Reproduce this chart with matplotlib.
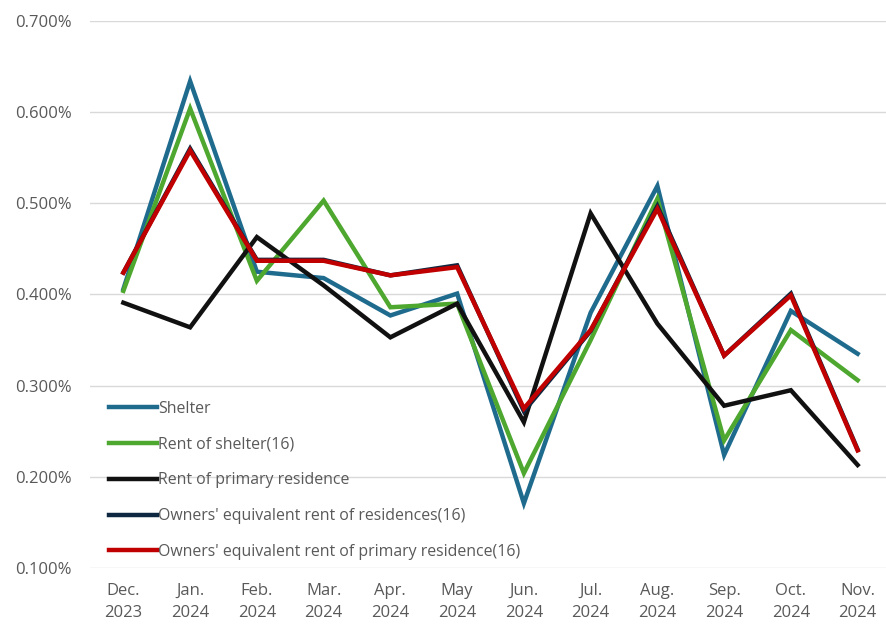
import matplotlib.pyplot as plt
from matplotlib.ticker import FuncFormatter

months = ["Dec.\n2023", "Jan.\n2024", "Feb.\n2024", "Mar.\n2024", "Apr.\n2024", "May\n2024",
          "Jun.\n2024", "Jul.\n2024", "Aug.\n2024", "Sep.\n2024", "Oct.\n2024", "Nov.\n2024"]

shelter = [0.406, 0.634, 0.425, 0.418, 0.377, 0.401, 0.171, 0.380, 0.519, 0.224, 0.382, 0.335]
rent_of_shelter = [0.404, 0.604, 0.415, 0.503, 0.386, 0.390, 0.204, 0.350, 0.505, 0.240, 0.361, 0.306]
rent_primary = [0.391, 0.364, 0.463, 0.410, 0.353, 0.390, 0.260, 0.489, 0.368, 0.278, 0.295, 0.213]
oer_residences = [0.424, 0.560, 0.438, 0.438, 0.421, 0.432, 0.272, 0.360, 0.497, 0.333, 0.401, 0.230]
oer_primary = [0.424, 0.558, 0.437, 0.437, 0.421, 0.430, 0.275, 0.361, 0.494, 0.333, 0.399, 0.229]

series = [
    ("Shelter", shelter, "#1F6B8E"),
    ("Rent of shelter(16)", rent_of_shelter, "#4EA72E"),
    ("Rent of primary residence", rent_primary, "#111111"),
    ("Owners' equivalent rent of residences(16)", oer_residences, "#0E2841"),
    ("Owners' equivalent rent of primary residence(16)", oer_primary, "#C00000"),
]

plt.rcParams['font.family'] = ['Open Sans', 'DejaVu Sans']
grey = "#595959"

fig = plt.figure(figsize=(8.87, 6.24), dpi=100)
ax = fig.add_axes([90 / 887, 1 - 568 / 624, 801 / 887, (568 - 21) / 624])

x = list(range(len(months)))
for name, vals, col in series:
    ax.plot(x, vals, color=col, lw=3.2, label=name, solid_joinstyle="miter")

ax.set_ylim(0.1, 0.7)
ax.set_xlim(-0.5, 11.5)
ax.set_yticks([0.1, 0.2, 0.3, 0.4, 0.5, 0.6, 0.7])
ax.yaxis.set_major_formatter(FuncFormatter(lambda v, p: f"{v:.3f}%"))
ax.set_xticks(x)
ax.set_xticklabels(months, linespacing=1.45)
ax.grid(axis="y", color="#d9d9d9", lw=1)
ax.set_axisbelow(True)
for s in ax.spines.values():
    s.set_visible(False)
ax.tick_params(length=0, labelsize=12, colors=grey)
ax.tick_params(axis="y", pad=13)
ax.tick_params(axis="x", pad=11)

leg = ax.legend(loc="lower left", bbox_to_anchor=(8 / 801, -3 / 547), frameon=False,
                fontsize=11.4, handlelength=3.0, handletextpad=0.1, labelspacing=1.25,
                borderaxespad=0.3)
for t in leg.get_texts():
    t.set_color(grey)

fig.savefig("out.png", dpi=100)
